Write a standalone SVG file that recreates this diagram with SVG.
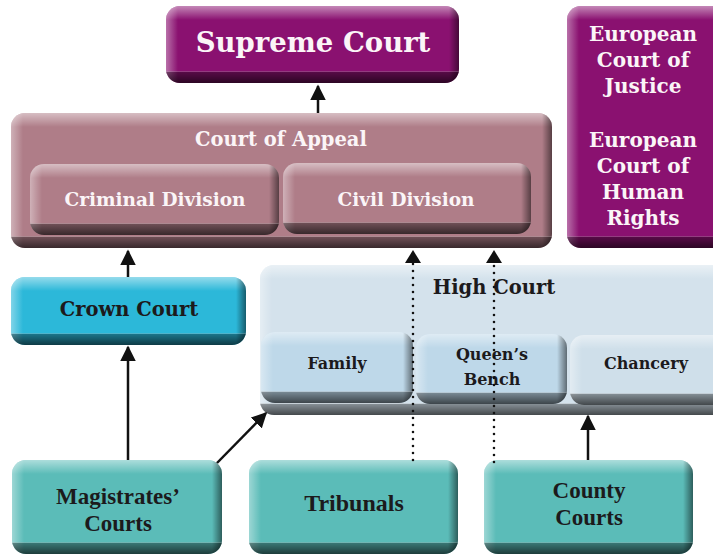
<svg xmlns="http://www.w3.org/2000/svg" width="713" height="558" viewBox="0 0 713 558">
<defs>
<style>
.t{font-family:"DejaVu Serif","Liberation Serif",serif;font-weight:bold;text-anchor:middle}
.w{fill:#fbf5f7}
.d{fill:#1c1a1c}
.c{font-family:"Liberation Serif",serif;font-weight:bold;text-anchor:middle}
.ln{stroke:#111;stroke-width:2.5;fill:none}
.dot{stroke:#111;stroke-width:2.6;fill:none;stroke-dasharray:0 7;stroke-linecap:round}
</style>
<linearGradient id="hiT" x1="0" y1="0" x2="0" y2="1"><stop offset="0" stop-color="#fff" stop-opacity="0.5"/><stop offset="1" stop-color="#fff" stop-opacity="0"/></linearGradient>
<linearGradient id="hiL" x1="0" y1="0" x2="1" y2="0"><stop offset="0" stop-color="#fff" stop-opacity="0.4"/><stop offset="1" stop-color="#fff" stop-opacity="0"/></linearGradient>
<linearGradient id="shR" x1="0" y1="0" x2="1" y2="0"><stop offset="0" stop-color="#000" stop-opacity="0"/><stop offset="1" stop-color="#000" stop-opacity="0.5"/></linearGradient>
<linearGradient id="shB" x1="0" y1="0" x2="0" y2="1"><stop offset="0" stop-color="#fff" stop-opacity="0.25"/><stop offset="0.12" stop-color="#000" stop-opacity="0.38"/><stop offset="1" stop-color="#000" stop-opacity="0.68"/></linearGradient>
<marker id="ah" viewBox="0 0 10 10" refX="9" refY="5" markerWidth="6.2" markerHeight="6.2" orient="auto" markerUnits="strokeWidth"><path d="M0,0 L10,5 L0,10 z" fill="#111"/></marker>
<clipPath id="k1"><rect x="166" y="6" width="293" height="77" rx="14"/></clipPath>
<clipPath id="k2"><rect x="11" y="113" width="541" height="135" rx="14"/></clipPath>
<clipPath id="k3"><rect x="30" y="164" width="249" height="71" rx="14"/></clipPath>
<clipPath id="k4"><rect x="283" y="163" width="248" height="71" rx="14"/></clipPath>
<clipPath id="k5"><rect x="567" y="6" width="160" height="242" rx="14"/></clipPath>
<clipPath id="k6"><rect x="11" y="277" width="235" height="68" rx="14"/></clipPath>
<clipPath id="k7"><rect x="260" y="265" width="470" height="150" rx="14"/></clipPath>
<clipPath id="k8"><rect x="261" y="332" width="152" height="71" rx="14"/></clipPath>
<clipPath id="k9"><rect x="416" y="334" width="151" height="70" rx="14"/></clipPath>
<clipPath id="k10"><rect x="570" y="335" width="160" height="70" rx="14"/></clipPath>
<clipPath id="k11"><rect x="12" y="460" width="210" height="94" rx="14"/></clipPath>
<clipPath id="k12"><rect x="249" y="460" width="209" height="94" rx="14"/></clipPath>
<clipPath id="k13"><rect x="484" y="460" width="209" height="94" rx="14"/></clipPath>
</defs>
<rect width="713" height="558" fill="#fff"/>

<g id="supreme-court" clip-path="url(#k1)">
<rect x="166" y="6" width="293" height="77" fill="#8a1170"/>
<rect x="166" y="6" width="293" height="14" fill="url(#hiT)"/>
<rect x="166" y="6" width="12" height="77" fill="url(#hiL)"/>
<rect x="449" y="6" width="10" height="77" fill="url(#shR)"/>
<rect x="166" y="71" width="293" height="12" fill="url(#shB)"/>
<text class="t w" x="313" y="52" font-size="27.5">Supreme Court</text>
</g>

<g id="european-courts" clip-path="url(#k5)">
<rect x="567" y="6" width="160" height="242" fill="#8a1170"/>
<rect x="567" y="6" width="160" height="14" fill="url(#hiT)"/>
<rect x="567" y="6" width="12" height="242" fill="url(#hiL)"/>
<rect x="567" y="236" width="160" height="12" fill="url(#shB)"/>
<text class="t w" x="643" font-size="20"><tspan x="643" y="41">European</tspan><tspan x="643" y="67">Court of</tspan><tspan x="643" y="93">Justice</tspan><tspan x="643" y="147">European</tspan><tspan x="643" y="173">Court of</tspan><tspan x="643" y="199">Human</tspan><tspan x="643" y="225">Rights</tspan></text>
</g>

<g id="court-of-appeal">
<g clip-path="url(#k2)">
<rect x="11" y="113" width="541" height="135" fill="#af7d88"/>
<rect x="11" y="113" width="541" height="14" fill="url(#hiT)"/>
<rect x="11" y="113" width="12" height="135" fill="url(#hiL)"/>
<rect x="542" y="113" width="10" height="135" fill="url(#shR)"/>
<rect x="11" y="236" width="541" height="12" fill="url(#shB)"/>
</g>
<text class="t w" x="281" y="146" font-size="19.5">Court of Appeal</text>
</g>

<g id="criminal-division" clip-path="url(#k3)">
<rect x="30" y="164" width="249" height="71" fill="#af7d88"/>
<rect x="30" y="164" width="249" height="14" fill="url(#hiT)"/>
<rect x="30" y="164" width="12" height="71" fill="url(#hiL)"/>
<rect x="269" y="164" width="10" height="71" fill="url(#shR)"/>
<rect x="30" y="223" width="249" height="12" fill="url(#shB)"/>
<text class="t w" x="155" y="206" font-size="18.5">Criminal Division</text>
</g>

<g id="civil-division" clip-path="url(#k4)">
<rect x="283" y="163" width="248" height="71" fill="#af7d88"/>
<rect x="283" y="163" width="248" height="14" fill="url(#hiT)"/>
<rect x="283" y="163" width="12" height="71" fill="url(#hiL)"/>
<rect x="521" y="163" width="10" height="71" fill="url(#shR)"/>
<rect x="283" y="222" width="248" height="12" fill="url(#shB)"/>
<text class="t w" x="406" y="206" font-size="18.5">Civil Division</text>
</g>

<g id="crown-court" clip-path="url(#k6)">
<rect x="11" y="277" width="235" height="68" fill="#2cb8d9"/>
<rect x="11" y="277" width="235" height="14" fill="url(#hiT)"/>
<rect x="11" y="277" width="12" height="68" fill="url(#hiL)"/>
<rect x="236" y="277" width="10" height="68" fill="url(#shR)"/>
<rect x="11" y="333" width="235" height="12" fill="url(#shB)"/>
<text class="t d" x="129" y="316" font-size="19.5">Crown Court</text>
</g>

<g id="high-court">
<g clip-path="url(#k7)">
<rect x="260" y="265" width="470" height="150" fill="#d4e2ec"/>
<rect x="260" y="265" width="470" height="14" fill="url(#hiT)"/>
<rect x="260" y="265" width="12" height="150" fill="url(#hiL)"/>
<rect x="260" y="403" width="470" height="12" fill="url(#shB)"/>
</g>
<text class="t d" x="494" y="294" font-size="19.5">High Court</text>
</g>

<g id="family" clip-path="url(#k8)">
<rect x="261" y="332" width="152" height="71" fill="#bed8e9"/>
<rect x="261" y="332" width="152" height="14" fill="url(#hiT)"/>
<rect x="261" y="332" width="12" height="71" fill="url(#hiL)"/>
<rect x="403" y="332" width="10" height="71" fill="url(#shR)"/>
<rect x="261" y="391" width="152" height="12" fill="url(#shB)"/>
<text class="t d" x="337" y="369" font-size="16">Family</text>
</g>

<g id="queens-bench" clip-path="url(#k9)">
<rect x="416" y="334" width="151" height="70" fill="#bed8e9"/>
<rect x="416" y="334" width="151" height="14" fill="url(#hiT)"/>
<rect x="416" y="334" width="12" height="70" fill="url(#hiL)"/>
<rect x="557" y="334" width="10" height="70" fill="url(#shR)"/>
<rect x="416" y="392" width="151" height="12" fill="url(#shB)"/>
<text class="t d" font-size="16"><tspan x="492" y="360">Queen’s</tspan><tspan x="492" y="385">Bench</tspan></text>
</g>

<g id="chancery" clip-path="url(#k10)">
<rect x="570" y="335" width="160" height="70" fill="#cfdfea"/>
<rect x="570" y="335" width="160" height="14" fill="url(#hiT)"/>
<rect x="570" y="335" width="12" height="70" fill="url(#hiL)"/>
<rect x="570" y="393" width="160" height="12" fill="url(#shB)"/>
<text class="t d" x="646" y="369" font-size="16">Chancery</text>
</g>

<g id="magistrates-courts" clip-path="url(#k11)">
<rect x="12" y="460" width="210" height="94" fill="#5bbcb8"/>
<rect x="12" y="460" width="210" height="14" fill="url(#hiT)"/>
<rect x="12" y="460" width="12" height="94" fill="url(#hiL)"/>
<rect x="212" y="460" width="10" height="94" fill="url(#shR)"/>
<rect x="12" y="542" width="210" height="12" fill="url(#shB)"/>
<text class="c d" font-size="23"><tspan x="118" y="504">Magistrates’</tspan><tspan x="118" y="531">Courts</tspan></text>
</g>

<g id="tribunals" clip-path="url(#k12)">
<rect x="249" y="460" width="209" height="94" fill="#5bbcb8"/>
<rect x="249" y="460" width="209" height="14" fill="url(#hiT)"/>
<rect x="249" y="460" width="12" height="94" fill="url(#hiL)"/>
<rect x="448" y="460" width="10" height="94" fill="url(#shR)"/>
<rect x="249" y="542" width="209" height="12" fill="url(#shB)"/>
<text class="c d" x="354" y="511" font-size="24">Tribunals</text>
</g>

<g id="county-courts" clip-path="url(#k13)">
<rect x="484" y="460" width="209" height="94" fill="#5bbcb8"/>
<rect x="484" y="460" width="209" height="14" fill="url(#hiT)"/>
<rect x="484" y="460" width="12" height="94" fill="url(#hiL)"/>
<rect x="683" y="460" width="10" height="94" fill="url(#shR)"/>
<rect x="484" y="542" width="209" height="12" fill="url(#shB)"/>
<text class="c d" font-size="23"><tspan x="589" y="498">County</tspan><tspan x="589" y="525">Courts</tspan></text>
</g>

<g id="connectors">
<line class="ln" x1="318" y1="113" x2="318" y2="86" marker-end="url(#ah)"/>
<line class="ln" x1="128" y1="277" x2="128" y2="251" marker-end="url(#ah)"/>
<line class="ln" x1="128" y1="460" x2="128" y2="347" marker-end="url(#ah)"/>
<line class="ln" x1="217" y1="463" x2="266" y2="413" marker-end="url(#ah)"/>
<line class="ln" x1="588" y1="460" x2="588" y2="416" marker-end="url(#ah)"/>
<line class="dot" x1="413" y1="460" x2="413" y2="262"/>
<line class="dot" x1="494" y1="462" x2="494" y2="262"/>
<path d="M405,263 L413,250 L421,263 z" fill="#111"/>
<path d="M486,263 L494,250 L502,263 z" fill="#111"/>
</g>
</svg>
